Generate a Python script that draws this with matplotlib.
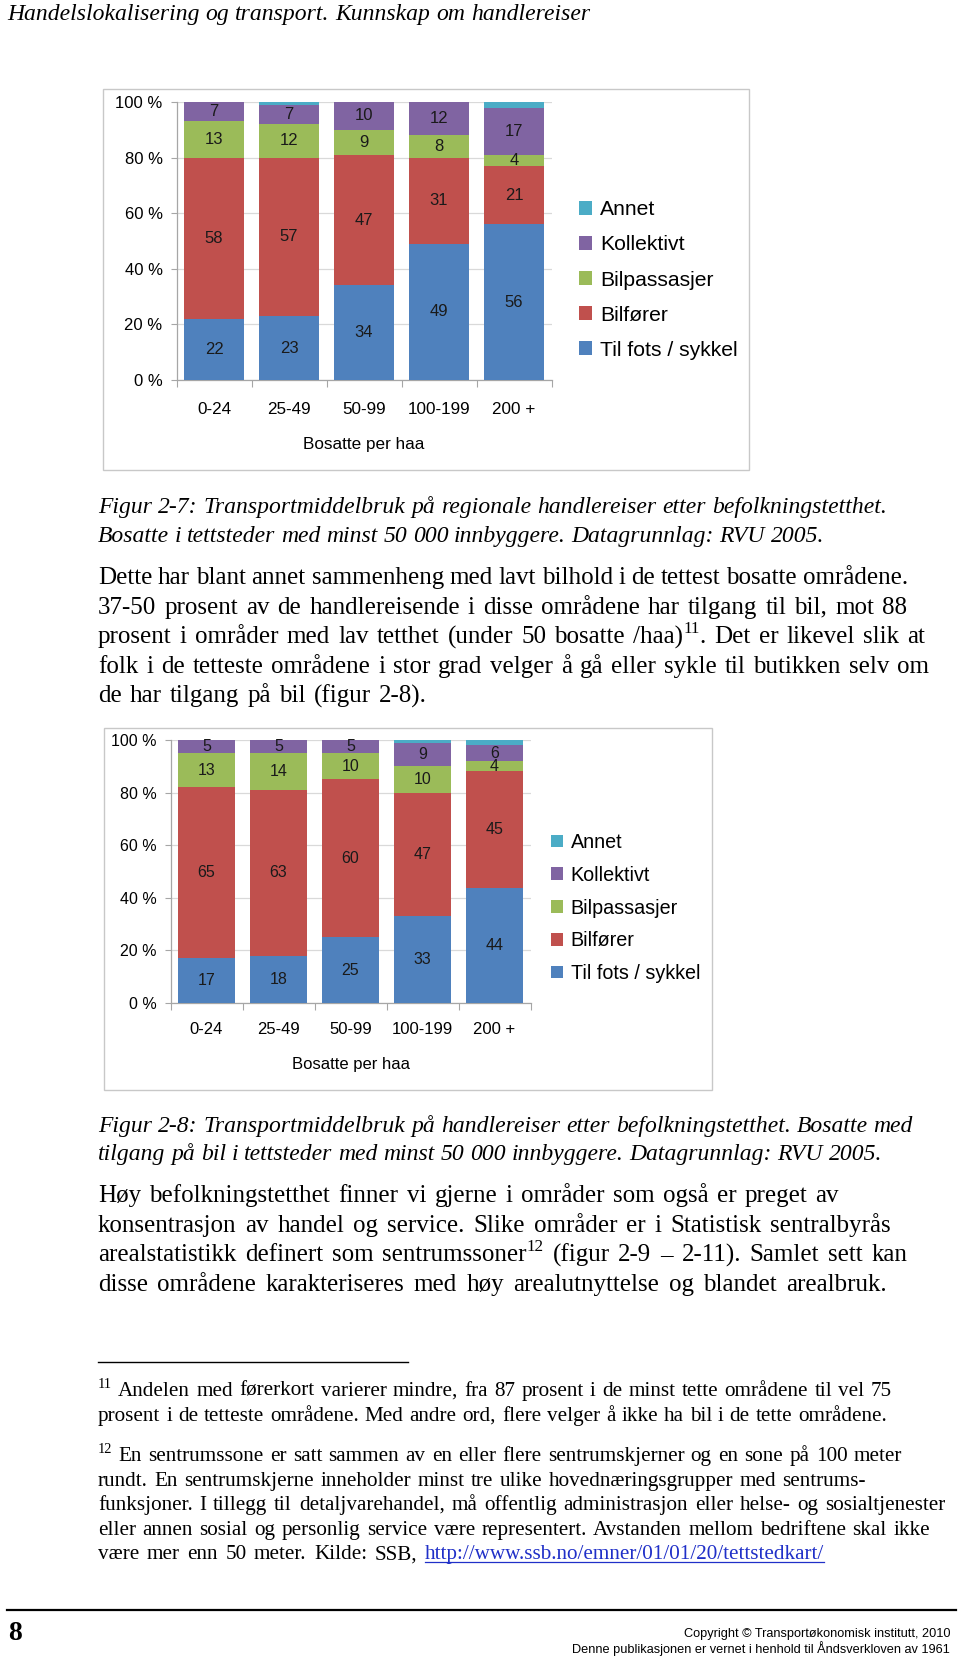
import matplotlib
matplotlib.use("Agg")
import matplotlib.pyplot as plt
from matplotlib.patches import Rectangle
from matplotlib.lines import Line2D
import numpy as np

# ---------------- data ----------------
categories = ['0-24', '25-49', '50-99', '100-199', '200 +']
series_names = ['Til fots / sykkel', 'Bilfører', 'Bilpassasjer', 'Kollektivt', 'Annet']
series_colors = ['#4F81BD', '#C0504D', '#9BBB59', '#8064A2', '#4BACC6']

fig1_walk = [22, 23, 34, 49, 56]
fig1_driver = [58, 57, 47, 31, 21]
fig1_passenger = [13, 12, 9, 8, 4]
fig1_transit = [7, 7, 10, 12, 17]
fig1_other = [0, 1, 0, 0, 2]

fig2_walk = [17, 18, 25, 33, 44]
fig2_driver = [65, 63, 60, 47, 45]
fig2_passenger = [13, 14, 10, 10, 4]
fig2_transit = [5, 5, 5, 9, 6]
fig2_other = [0, 0, 0, 1, 2]

yticks = [0, 20, 40, 60, 80, 100]
ytick_labels = ['0 %', '20 %', '40 %', '60 %', '80 %', '100 %']
xlabel = 'Bosatte per haa'

header = 'Handelslokalisering og transport. Kunnskap om handlereiser'
caption1 = [[('Figur 2-7: Transportmiddelbruk på regionale handlereiser etter befolkningstetthet.', 0)],
            [('Bosatte i tettsteder med minst 50 000 innbyggere. Datagrunnlag: RVU 2005.', 0)]]
caption2 = [[('Figur 2-8: Transportmiddelbruk på handlereiser etter befolkningstetthet. Bosatte med', 0)],
            [('tilgang på bil i tettsteder med minst 50 000 innbyggere. Datagrunnlag: RVU 2005.', 0)]]
para1 = [[('Dette har blant annet sammenheng med lavt bilhold i de tettest bosatte områdene.', 0)],
         [('37-50 prosent av de handlereisende i disse områdene har tilgang til bil, mot 88', 0)],
         [('prosent i områder med lav tetthet (under 50 bosatte /haa)', 0), ('11', 1), ('. Det er likevel slik at', 0)],
         [('folk i de tetteste områdene i stor grad velger å gå eller sykle til butikken selv om', 0)],
         [('de har tilgang på bil (figur 2-8).', 0)]]
para2 = [[('Høy befolkningstetthet finner vi gjerne i områder som også er preget av', 0)],
         [('konsentrasjon av handel og service. Slike områder er i Statistisk sentralbyrås', 0)],
         [('arealstatistikk definert som sentrumssoner', 0), ('12', 1), (' (figur 2-9 – 2-11). Samlet sett kan', 0)],
         [('disse områdene karakteriseres med høy arealutnyttelse og blandet arealbruk.', 0)]]
fn11 = [[('11', 1), (' Andelen med førerkort varierer mindre, fra 87 prosent i de minst tette områdene til vel 75', 0)],
        [('prosent i de tetteste områdene. Med andre ord, flere velger å ikke ha bil i de tette områdene.', 0)]]
fn12 = [[('12', 1), (' En sentrumssone er satt sammen av en eller flere sentrumskjerner og en sone på 100 meter', 0)],
        [('rundt. En sentrumskjerne inneholder minst tre ulike hovednæringsgrupper med sentrums-', 0)],
        [('funksjoner. I tillegg til detaljvarehandel, må offentlig administrasjon eller helse- og sosialtjenester', 0)],
        [('eller annen sosial og personlig service være representert. Avstanden mellom bedriftene skal ikke', 0)],
        [('være mer enn 50 meter. Kilde: SSB, ', 0), ('http://www.ssb.no/emner/01/01/20/tettstedkart/', 2)]]
copyright_lines = ['Copyright © Transportøkonomisk institutt, 2010',
                   'Denne publikasjonen er vernet i henhold til Åndsverkloven av 1961']
page_number = '8'

# ---------------- figure ----------------
W, H = 960, 1659
fig = plt.figure(figsize=(W / 100, H / 100), dpi=100)
fig.patch.set_facecolor('white')
SERIF = 'Liberation Serif'
SANS = 'Liberation Sans'


def fx(x):
    return x / W


def fy(y):
    return 1 - y / H


def frame(x0, y0, x1, y1):
    fig.patches.append(Rectangle((fx(x0), fy(y1)), fx(x1 - x0), (y1 - y0) / H,
                                 transform=fig.transFigure, fill=False,
                                 edgecolor='#C8C8C8', linewidth=1.0))


def stacked_chart(rect, series, legend_xy, xlab_y, catlab_y, tick_fs, cat_fs, lab_fs,
                  leg_fs, leg_ls):
    x0, y0, x1, y1 = rect
    ax = fig.add_axes([fx(x0), fy(y1), fx(x1 - x0), (y1 - y0) / H])
    arr = np.array(series, dtype=float)
    pct = arr / arr.sum(axis=0) * 100
    x = np.arange(len(categories))
    bottom = np.zeros(len(categories))
    handles = []
    for i, (name, col) in enumerate(zip(series_names, series_colors)):
        b = ax.bar(x, pct[i], bottom=bottom, width=0.8, color=col, label=name,
                   zorder=3, linewidth=0)
        handles.append(b)
        for j in range(len(categories)):
            v = arr[i, j]
            if v >= 3:
                ax.text(x[j], bottom[j] + pct[i, j] / 2, f'{int(v)}', ha='center',
                        va='center', fontsize=lab_fs, family=SANS, color='#1a1a1a', zorder=4)
        bottom += pct[i]
    ax.set_xlim(-0.5, len(categories) - 0.5)
    ax.set_ylim(0, 100)
    ax.set_yticks(yticks)
    ax.set_yticklabels(ytick_labels, family=SANS, fontsize=tick_fs)
    ax.yaxis.grid(True, color='#D9D9D9', linewidth=0.9, zorder=0)
    ax.set_axisbelow(True)
    for s in ['top', 'right']:
        ax.spines[s].set_visible(False)
    for s in ['left', 'bottom']:
        ax.spines[s].set_color('#A6A6A6')
        ax.spines[s].set_linewidth(0.9)
    ax.tick_params(axis='y', length=4, color='#A6A6A6', pad=6)
    ax.set_xticks(np.arange(-0.5, len(categories), 1.0))
    ax.set_xticklabels([])
    ax.tick_params(axis='x', length=5, color='#A6A6A6')
    for j, c in enumerate(categories):
        fig.text(fx(x0 + (j + 0.5) * (x1 - x0) / len(categories)), fy(catlab_y), c,
                 ha='center', va='center', family=SANS, fontsize=cat_fs)
    fig.text(fx((x0 + x1) / 2), fy(xlab_y), xlabel, ha='center', va='center',
             family=SANS, fontsize=cat_fs)
    fig.legend(handles[::-1], series_names[::-1], loc='center left',
               bbox_to_anchor=(fx(legend_xy[0]), fy(legend_xy[1])),
               frameon=False, prop={'family': SANS, 'size': leg_fs},
               handlelength=0.6, handleheight=0.6, handletextpad=0.4,
               labelspacing=leg_ls, borderpad=0, borderaxespad=0)
    return ax


# chart 1
frame(103, 89, 749, 470)
stacked_chart((176.5, 102, 551.5, 380),
              [fig1_walk, fig1_driver, fig1_passenger, fig1_transit, fig1_other],
              (579, 280), 444, 409, 12, 12.3, 12, 15.2, 0.76)
# chart 2
frame(104, 728, 712, 1090)
stacked_chart((170.5, 740, 530.5, 1003),
              [fig2_walk, fig2_driver, fig2_passenger, fig2_transit, fig2_other],
              (551, 908), 1065, 1030, 11.5, 12, 11.5, 14.2, 0.70)

renderer = fig.canvas.get_renderer()
LINK = '#2030C8'


def measure(txt, size, style, family=SERIF):
    t = fig.text(0, 0, txt, fontsize=size, family=family, style=style)
    w = t.get_window_extent(renderer).width
    t.remove()
    return w


def text_line(x0, y, parts, size, style='normal', target=None, family=SERIF, weight='normal'):
    """Draw a line of words at baseline y (px from top); word gaps stretched to reach target."""
    tokens = []  # (text, kind, space_before)
    pending_space = False
    for txt, kind in parts:
        if kind == 1:
            tokens.append((txt, kind, pending_space))
            pending_space = False
            continue
        words = txt.split(' ')
        for k, wd in enumerate(words):
            sp = pending_space if k == 0 else True
            if wd == '':
                pending_space = True if k > 0 or txt.startswith(' ') else pending_space
                continue
            tokens.append((wd, kind, sp and len(tokens) > 0))
            pending_space = False
        if txt.endswith(' '):
            pending_space = True
    sup_size = size * 0.68
    space_w = measure('a a', size, style, family) - measure('aa', size, style, family)
    arts = []
    for wd, kind, sp in tokens:
        fs = sup_size if kind == 1 else size
        col = LINK if kind == 2 else 'black'
        yy = y - size * 0.55 if kind == 1 else y
        t = fig.text(0, fy(yy), wd, fontsize=fs, family=family, style=style, color=col,
                     va='baseline', ha='left', weight=weight)
        w = t.get_window_extent(renderer).width
        arts.append((t, w, sp, kind))
    nsp = sum(1 for a in arts if a[2])
    natural = sum(a[1] for a in arts) + nsp * space_w
    gap = space_w
    if target is not None and nsp > 0:
        gap = space_w + (target - x0 - natural) / nsp
        gap = min(max(gap, 0.6 * space_w), 3.0 * space_w)
    cx = x0
    for t, w, sp, kind in arts:
        if sp:
            cx += gap
        t.set_x(fx(cx))
        if kind == 2:
            fig.add_artist(Line2D([fx(cx), fx(cx + w)], [fy(y + 3), fy(y + 3)],
                                  transform=fig.transFigure, color=LINK, linewidth=0.9))
        cx += w


# header
text_line(7, 20, [(header, 0)], 17, style='italic', target=590)

# captions
cap1_ends = [887, 824]
for i, parts in enumerate(caption1):
    text_line(98, 513 + i * 29, parts, 17.0, style='italic', target=cap1_ends[i])
cap2_ends = [913, 882]
for i, parts in enumerate(caption2):
    text_line(98, 1132 + i * 28, parts, 17.0, style='italic', target=cap2_ends[i])

# paragraphs
p1_ends = [908, 907, 925, 929, 427]
for i, parts in enumerate(para1):
    text_line(98, 584 + i * 29.6, parts, 18.0, target=p1_ends[i])
p2_ends = [839, 891, 907, 887]
for i, parts in enumerate(para2):
    text_line(98, 1202 + i * 29.6, parts, 18.0, target=p2_ends[i])

# footnote rule
fig.add_artist(Line2D([fx(98), fx(408)], [fy(1362), fy(1362)], transform=fig.transFigure,
                      color='black', linewidth=1.0))
fn11_ends = [892, 887]
for i, parts in enumerate(fn11):
    text_line(98, 1396 + i * 25, parts, 15.2, target=fn11_ends[i])
fn12_ends = [902, 866, 945, 930, 824]
for i, parts in enumerate(fn12):
    text_line(98, 1461 + i * 24.6, parts, 15.2, target=fn12_ends[i])

# bottom rule and footer
fig.add_artist(Line2D([fx(7), fx(956)], [fy(1610), fy(1610)], transform=fig.transFigure,
                      color='black', linewidth=1.6))
fig.text(fx(8), fy(1640), page_number, fontsize=20, family=SERIF, weight='bold',
         va='baseline', ha='left')
fig.text(fx(950), fy(1637), copyright_lines[0], fontsize=9.2, family=SANS,
         va='baseline', ha='right')
fig.text(fx(950), fy(1653), copyright_lines[1], fontsize=9.2, family=SANS,
         va='baseline', ha='right')

fig.savefig('out.png', dpi=100, facecolor='white')
